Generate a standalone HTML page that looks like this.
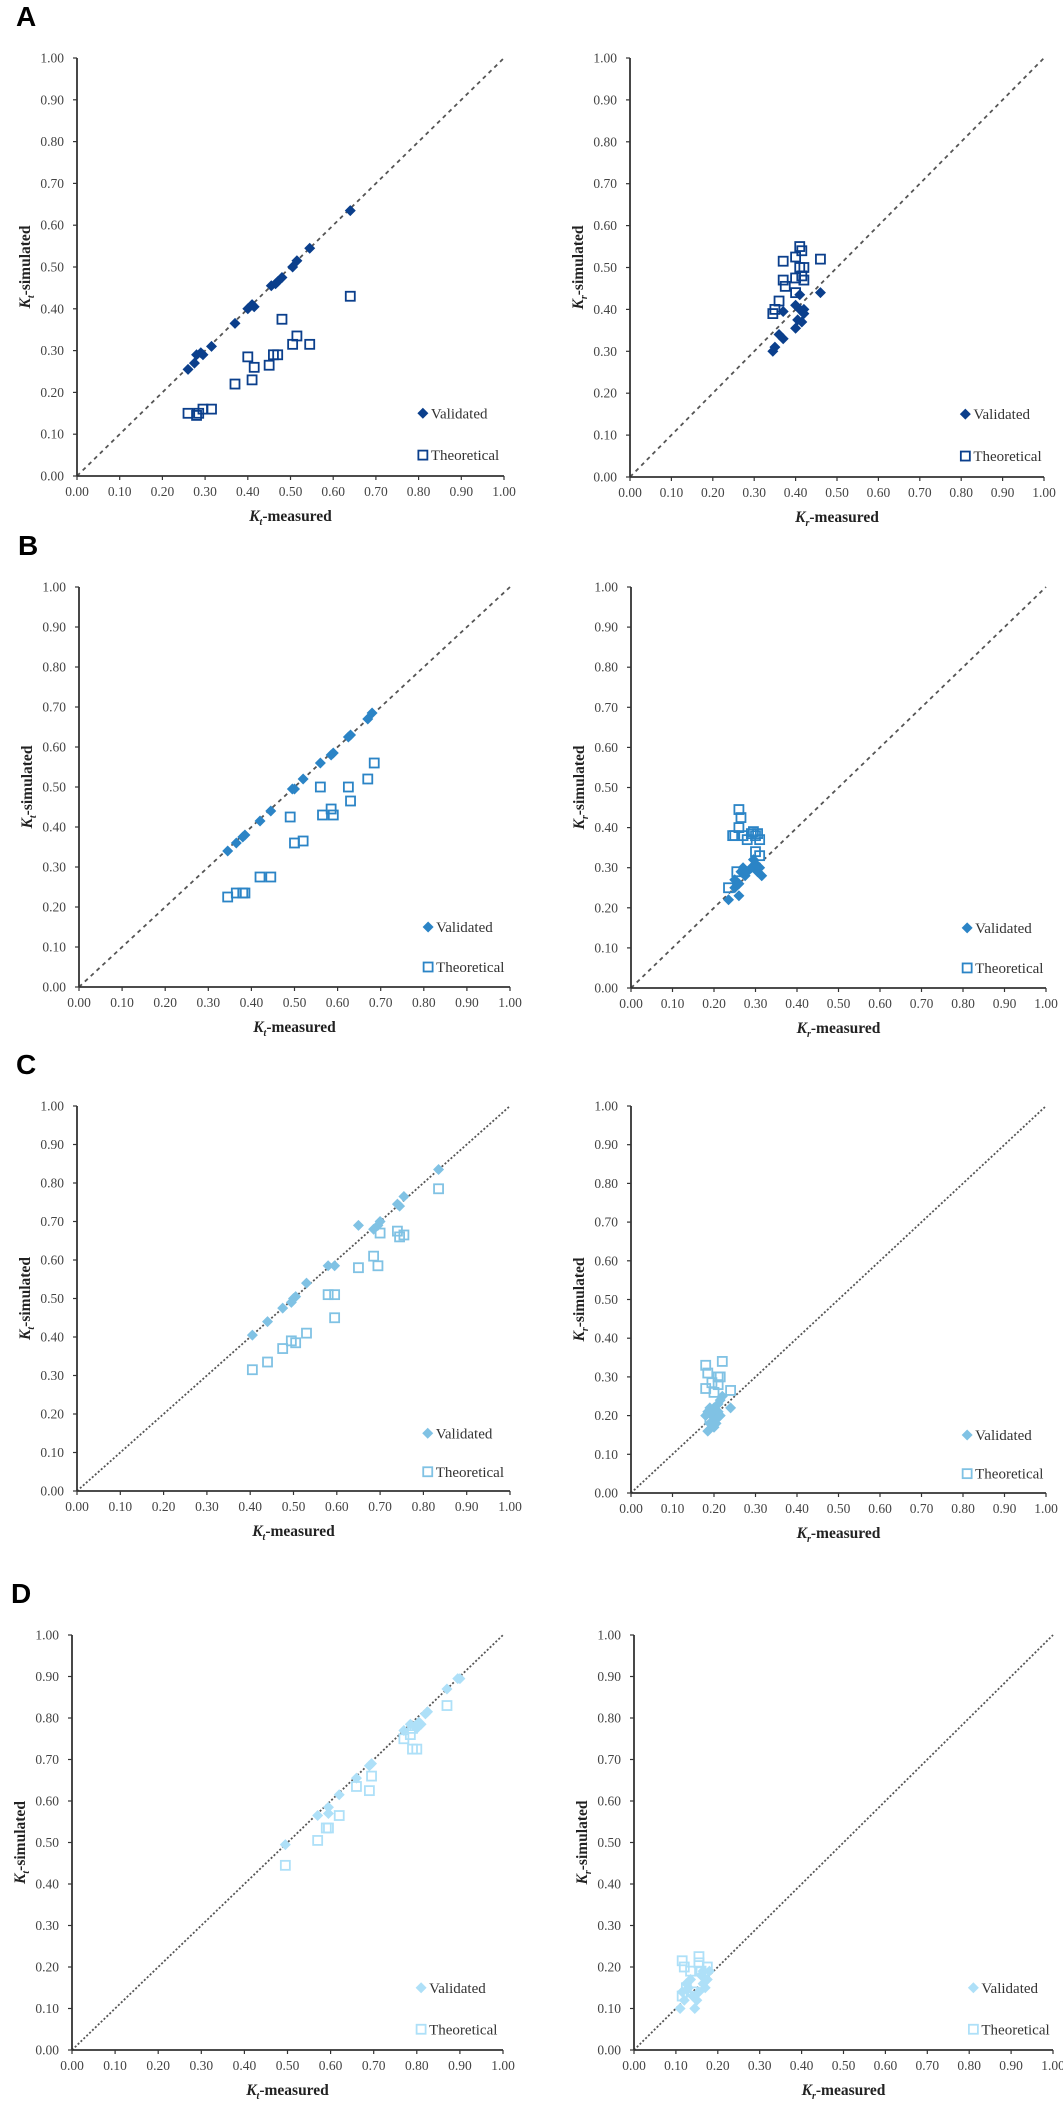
<!DOCTYPE html>
<html><head><meta charset="utf-8"><style>
body{margin:0;background:#fff;width:1063px;height:2106px;overflow:hidden}
svg{display:block}
text{font-family:"Liberation Serif",serif}
</style></head><body>
<svg id="fig" width="1063" height="2106" xmlns="http://www.w3.org/2000/svg"></svg>
<script>
const ticks=[0,0.1,0.2,0.3,0.4,0.5,0.6,0.7,0.8,0.9,1.0];
const tickLabels=["0.00","0.10","0.20","0.30","0.40","0.50","0.60","0.70","0.80","0.90","1.00"];
const legendLabels=["Validated","Theoretical"];
// Panel A
const aLvx=[0.26,0.275,0.28,0.29,0.295,0.315,0.37,0.40,0.41,0.415,0.455,0.465,0.47,0.48,0.505,0.515,0.545,0.64];
const aLvy=[0.255,0.27,0.29,0.295,0.29,0.31,0.365,0.40,0.41,0.405,0.455,0.46,0.465,0.475,0.50,0.515,0.545,0.635];
const aLtx=[0.26,0.28,0.285,0.295,0.315,0.37,0.40,0.41,0.415,0.45,0.46,0.47,0.48,0.505,0.515,0.545,0.64];
const aLty=[0.15,0.145,0.15,0.16,0.16,0.22,0.285,0.23,0.26,0.265,0.29,0.29,0.375,0.315,0.335,0.315,0.43];
const aRvx=[0.345,0.35,0.36,0.37,0.37,0.40,0.40,0.405,0.41,0.41,0.415,0.42,0.42,0.46];
const aRvy=[0.30,0.31,0.34,0.33,0.395,0.355,0.41,0.375,0.435,0.40,0.37,0.39,0.40,0.44];
const aRtx=[0.345,0.35,0.36,0.37,0.37,0.375,0.40,0.40,0.40,0.41,0.41,0.415,0.415,0.42,0.42,0.46];
const aRty=[0.39,0.40,0.42,0.515,0.47,0.455,0.525,0.475,0.44,0.55,0.50,0.54,0.48,0.50,0.47,0.52];
// Panel B
const bLvx=[0.345,0.365,0.38,0.385,0.42,0.445,0.495,0.50,0.52,0.56,0.585,0.59,0.625,0.63,0.67,0.68];
const bLvy=[0.34,0.36,0.375,0.38,0.415,0.44,0.495,0.495,0.52,0.56,0.58,0.585,0.625,0.63,0.67,0.685];
const bLtx=[0.345,0.365,0.38,0.385,0.42,0.445,0.49,0.50,0.52,0.56,0.565,0.585,0.59,0.625,0.63,0.67,0.685];
const bLty=[0.225,0.235,0.235,0.235,0.275,0.275,0.425,0.36,0.365,0.50,0.43,0.445,0.43,0.50,0.465,0.52,0.56];
const bRvx=[0.235,0.25,0.25,0.26,0.265,0.27,0.275,0.28,0.29,0.295,0.30,0.305,0.31,0.315,0.26];
const bRvy=[0.22,0.25,0.27,0.23,0.29,0.30,0.28,0.29,0.30,0.32,0.31,0.29,0.30,0.28,0.26];
const bRtx=[0.235,0.245,0.25,0.26,0.265,0.26,0.27,0.28,0.29,0.295,0.30,0.305,0.31,0.30,0.31,0.255];
const bRty=[0.25,0.38,0.38,0.445,0.425,0.40,0.38,0.37,0.385,0.39,0.38,0.385,0.37,0.34,0.33,0.29];
// Panel C
const cLvx=[0.405,0.44,0.475,0.495,0.50,0.505,0.53,0.58,0.595,0.65,0.685,0.695,0.70,0.74,0.745,0.755,0.835];
const cLvy=[0.405,0.44,0.475,0.49,0.50,0.505,0.54,0.585,0.585,0.69,0.68,0.69,0.70,0.745,0.74,0.765,0.835];
const cLtx=[0.405,0.44,0.475,0.495,0.505,0.53,0.58,0.595,0.595,0.65,0.685,0.695,0.70,0.74,0.745,0.755,0.835];
const cLty=[0.315,0.335,0.37,0.39,0.385,0.41,0.51,0.51,0.45,0.58,0.61,0.585,0.67,0.675,0.66,0.665,0.785];
const cRvx=[0.18,0.185,0.19,0.19,0.195,0.20,0.205,0.21,0.21,0.215,0.22,0.215,0.20,0.185,0.24,0.205];
const cRvy=[0.20,0.16,0.22,0.18,0.20,0.17,0.19,0.21,0.23,0.24,0.25,0.20,0.22,0.21,0.22,0.18];
const cRtx=[0.18,0.185,0.18,0.21,0.215,0.21,0.22,0.24,0.195,0.20,0.19];
const cRty=[0.33,0.31,0.27,0.30,0.30,0.28,0.34,0.265,0.285,0.26,0.19];
// Panel D
const dLvx=[0.495,0.57,0.595,0.595,0.62,0.66,0.69,0.695,0.77,0.785,0.795,0.80,0.805,0.81,0.82,0.825,0.87,0.895,0.90];
const dLvy=[0.495,0.565,0.585,0.57,0.615,0.655,0.685,0.69,0.77,0.785,0.78,0.775,0.79,0.785,0.81,0.815,0.87,0.895,0.895];
const dLtx=[0.495,0.57,0.59,0.595,0.62,0.66,0.69,0.695,0.77,0.785,0.79,0.80,0.87,0.79];
const dLty=[0.445,0.505,0.535,0.535,0.565,0.635,0.625,0.66,0.75,0.76,0.725,0.725,0.83,0.775];
const dRvx=[0.11,0.115,0.12,0.125,0.13,0.135,0.14,0.145,0.15,0.155,0.16,0.165,0.17,0.175,0.18,0.165];
const dRvy=[0.10,0.14,0.12,0.16,0.15,0.17,0.13,0.10,0.12,0.14,0.18,0.19,0.15,0.17,0.19,0.16];
const dRtx=[0.115,0.12,0.135,0.155,0.155,0.175,0.115,0.125,0.14,0.16];
const dRty=[0.215,0.20,0.19,0.225,0.21,0.20,0.13,0.15,0.14,0.19];

const NS="http://www.w3.org/2000/svg";
const svg=document.getElementById('fig');
function mk(tag,attrs,parent){const e=document.createElementNS(NS,tag);for(const k in attrs)e.setAttribute(k,attrs[k]);(parent||svg).appendChild(e);return e;}

const panels=[
 {id:'a-left',letter:'A',x0:77,x1:504,y0:476,y1:58,sub:'t',color:'#0b3f8c',vx:aLvx,vy:aLvy,tx:aLtx,ty:aLty,dash:'4,4'},
 {id:'a-right',x0:630,x1:1044,y0:477,y1:58,sub:'r',color:'#0b3f8c',vx:aRvx,vy:aRvy,tx:aRtx,ty:aRty,dash:'4,4'},
 {id:'b-left',letter:'B',x0:79,x1:510,y0:987,y1:587,sub:'t',color:'#2b84c6',vx:bLvx,vy:bLvy,tx:bLtx,ty:bLty,dash:'4,4'},
 {id:'b-right',x0:631,x1:1046,y0:988,y1:587,sub:'r',color:'#2b84c6',vx:bRvx,vy:bRvy,tx:bRtx,ty:bRty,dash:'4,4'},
 {id:'c-left',letter:'C',x0:77,x1:510,y0:1491,y1:1106,sub:'t',color:'#80c2e4',vx:cLvx,vy:cLvy,tx:cLtx,ty:cLty,dash:'2,2'},
 {id:'c-right',x0:631,x1:1046,y0:1493,y1:1106,sub:'r',color:'#80c2e4',vx:cRvx,vy:cRvy,tx:cRtx,ty:cRty,dash:'2,2'},
 {id:'d-left',letter:'D',x0:72,x1:503,y0:2050,y1:1635,sub:'t',color:'#aee0f8',vx:dLvx,vy:dLvy,tx:dLtx,ty:dLty,dash:'2,2'},
 {id:'d-right',x0:634,x1:1053,y0:2050,y1:1635,sub:'r',color:'#aee0f8',vx:dRvx,vy:dRvy,tx:dRtx,ty:dRty,dash:'2,2'}
];

function diamond(g,cx,cy,c){const r=5.5;return mk('polygon',{points:`${cx},${cy-r} ${cx+r},${cy} ${cx},${cy+r} ${cx-r},${cy}`,fill:c},g);}
function square(g,cx,cy,c){return mk('rect',{x:cx-4.5,y:cy-4.5,width:9,height:9,fill:'none',stroke:c,'stroke-width':1.8},g);}

panels.forEach(p=>{
  const sx=v=>p.x0+v*(p.x1-p.x0);
  const sy=v=>p.y0-v*(p.y0-p.y1);
  const g=mk('g',{});
  
  
  if(p.letter){
    const L=mk('text',{x:p.x0-61,y:p.y1-32,'font-size':28,'font-weight':'bold',fill:'#000',style:'font-family:"Liberation Sans",sans-serif'},g);
    L.textContent=p.letter;
    
    
  }
  const d=mk('line',{x1:sx(0),y1:sy(0),x2:sx(1),y2:sy(1),stroke:'#555','stroke-width':1.8,'stroke-dasharray':p.dash},g);
  
  
  const ya=mk('line',{x1:p.x0,y1:p.y1,x2:p.x0,y2:p.y0,stroke:'#333','stroke-width':1.8},g);
  
  
  const xa=mk('line',{x1:p.x0,y1:p.y0,x2:p.x1,y2:p.y0,stroke:'#333','stroke-width':1.8},g);
  
  
  ticks.forEach((t,i)=>{
    mk('line',{x1:p.x0-4,y1:sy(t),x2:p.x0,y2:sy(t),stroke:'#333','stroke-width':1.2},g);
    mk('line',{x1:sx(t),y1:p.y0,x2:sx(t),y2:p.y0+4,stroke:'#333','stroke-width':1.2},g);
    const yl=mk('text',{x:p.x0-13,y:sy(t)+4.5,'text-anchor':'end','font-size':13.5,fill:'#444'},g);
    yl.textContent=tickLabels[i];
    
    
    const xl=mk('text',{x:sx(t),y:p.y0+20,'text-anchor':'middle','font-size':13.5,fill:'#444'},g);
    xl.textContent=tickLabels[i];
    
    
  });
  const xt=mk('text',{x:(p.x0+p.x1)/2,y:p.y0+45,'text-anchor':'middle','font-size':15.5,'font-weight':'bold',fill:'#222'},g);
  xt.innerHTML=`<tspan font-style="italic">K</tspan><tspan font-size="10" dy="4" font-style="italic">${p.sub}</tspan><tspan dy="-4">-measured</tspan>`;
  
  
  const cy=(p.y0+p.y1)/2;
  const yt=mk('text',{x:0,y:0,'text-anchor':'middle','font-size':15.5,'font-weight':'bold',fill:'#222',transform:`translate(${p.x0-47},${cy}) rotate(-90)`},g);
  yt.innerHTML=`<tspan font-style="italic">K</tspan><tspan font-size="10" dy="4" font-style="italic">${p.sub}</tspan><tspan dy="-4">-simulated</tspan>`;
  
  
  p.tx.forEach((v,i)=>{
    const m=square(g,sx(v),sy(p.ty[i]),p.color);
    
    
  });
  p.vx.forEach((v,i)=>{
    const m=diamond(g,sx(v),sy(p.vy[i]),p.color);
    
    
  });
  const lx=sx(0.81);
  const m1=diamond(g,lx,sy(0.15),p.color);
  
  
  const t1=mk('text',{x:lx+8,y:sy(0.15)+5,'font-size':15,fill:'#333'},g);
  t1.textContent=legendLabels[0];
  
  
  const m2=square(g,lx,sy(0.05),p.color);
  
  
  const t2=mk('text',{x:lx+8,y:sy(0.05)+5,'font-size':15,fill:'#333'},g);
  t2.textContent=legendLabels[1];
  
  
});
</script>
</body></html>
